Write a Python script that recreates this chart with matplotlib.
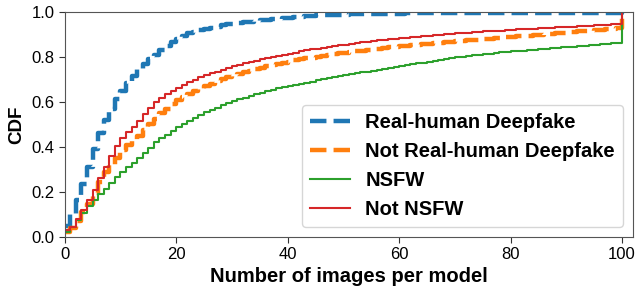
import matplotlib
matplotlib.use("Agg")
import matplotlib.pyplot as plt
import numpy as np

plt.rcParams['font.family'] = ['Liberation Sans', 'DejaVu Sans']

# Number of images per model (x) and CDF values for each group
n_images = list(range(0, 101))

real_human_deepfake = [
    0.05, 0.10, 0.165, 0.235, 0.31, 0.39, 0.46, 0.52, 0.57, 0.615,
    0.65, 0.685, 0.715, 0.745, 0.77, 0.79, 0.81, 0.83, 0.848, 0.865,
    0.88, 0.893, 0.905, 0.912, 0.918, 0.924, 0.930, 0.935, 0.940, 0.944,
    0.948, 0.951, 0.954, 0.957, 0.960, 0.963, 0.966, 0.968, 0.970, 0.972,
    0.975, 0.977, 0.979, 0.981, 0.983, 0.984, 0.985, 0.986, 0.987, 0.988,
    0.988, 0.989, 0.989, 0.990, 0.990, 0.991, 0.991, 0.991, 0.992, 0.992,
    0.992, 0.993, 0.993, 0.993, 0.993, 0.994, 0.994, 0.994, 0.994, 0.994,
    0.995, 0.995, 0.995, 0.995, 0.995, 0.995, 0.995, 0.995, 0.995, 0.995,
    0.995, 0.995, 0.995, 0.996, 0.996, 0.996, 0.996, 0.996, 0.996, 0.996,
    0.996, 0.996, 0.996, 0.996, 0.996, 0.996, 0.996, 0.996, 0.996, 0.996,
    1.0]

not_real_human_deepfake = [
    0.02, 0.04, 0.07, 0.11, 0.147, 0.195, 0.245, 0.29, 0.32, 0.35,
    0.385, 0.41, 0.43, 0.45, 0.475, 0.50, 0.525, 0.55, 0.57, 0.59,
    0.607, 0.62, 0.634, 0.647, 0.659, 0.67, 0.681, 0.691, 0.70, 0.709,
    0.717, 0.725, 0.732, 0.739, 0.746, 0.752, 0.758, 0.764, 0.769, 0.774,
    0.779, 0.784, 0.789, 0.793, 0.797, 0.801, 0.805, 0.809, 0.812, 0.816,
    0.819, 0.822, 0.825, 0.828, 0.831, 0.834, 0.837, 0.839, 0.842, 0.844,
    0.847, 0.849, 0.852, 0.854, 0.856, 0.859, 0.861, 0.863, 0.865, 0.867,
    0.869, 0.871, 0.873, 0.875, 0.877, 0.879, 0.881, 0.883, 0.885, 0.887,
    0.889, 0.891, 0.893, 0.895, 0.897, 0.899, 0.901, 0.903, 0.905, 0.907,
    0.909, 0.911, 0.913, 0.915, 0.917, 0.919, 0.921, 0.923, 0.926, 0.930,
    1.0]

nsfw = [
    0.02, 0.046, 0.076, 0.107, 0.138, 0.165, 0.19, 0.213, 0.24, 0.265,
    0.29, 0.31, 0.33, 0.35, 0.375, 0.395, 0.42, 0.438, 0.455, 0.472,
    0.488, 0.502, 0.516, 0.529, 0.542, 0.554, 0.565, 0.575, 0.585, 0.594,
    0.603, 0.611, 0.619, 0.627, 0.634, 0.641, 0.648, 0.654, 0.660, 0.665,
    0.670, 0.675, 0.680, 0.685, 0.690, 0.697, 0.702, 0.707, 0.711, 0.715,
    0.719, 0.723, 0.727, 0.731, 0.735, 0.739, 0.743, 0.747, 0.751, 0.755,
    0.759, 0.763, 0.767, 0.771, 0.775, 0.779, 0.783, 0.787, 0.791, 0.795,
    0.798, 0.801, 0.804, 0.807, 0.810, 0.813, 0.815, 0.818, 0.820, 0.822,
    0.824, 0.826, 0.828, 0.830, 0.832, 0.834, 0.836, 0.838, 0.840, 0.842,
    0.844, 0.846, 0.848, 0.850, 0.852, 0.854, 0.856, 0.858, 0.860, 0.862,
    1.0]

not_nsfw = [
    0.03, 0.046, 0.08, 0.12, 0.165, 0.21, 0.26, 0.31, 0.36, 0.405,
    0.44, 0.465, 0.49, 0.515, 0.545, 0.575, 0.598, 0.618, 0.635, 0.65,
    0.663, 0.676, 0.688, 0.699, 0.709, 0.718, 0.727, 0.735, 0.743, 0.751,
    0.758, 0.765, 0.771, 0.777, 0.783, 0.789, 0.794, 0.799, 0.804, 0.809,
    0.814, 0.819, 0.824, 0.829, 0.833, 0.837, 0.841, 0.845, 0.848, 0.852,
    0.855, 0.858, 0.861, 0.864, 0.867, 0.870, 0.873, 0.875, 0.878, 0.880,
    0.883, 0.885, 0.887, 0.889, 0.892, 0.894, 0.896, 0.898, 0.900, 0.902,
    0.904, 0.906, 0.908, 0.909, 0.911, 0.913, 0.914, 0.916, 0.917, 0.919,
    0.920, 0.922, 0.923, 0.924, 0.926, 0.927, 0.929, 0.930, 0.931, 0.933,
    0.934, 0.935, 0.936, 0.937, 0.939, 0.940, 0.941, 0.942, 0.944, 0.946,
    1.0]

labels = ["Real-human Deepfake", "Not Real-human Deepfake", "NSFW", "Not NSFW"]
x_ticks = [0, 20, 40, 60, 80, 100]
y_ticks = [0.0, 0.2, 0.4, 0.6, 0.8, 1.0]

fig = plt.figure(figsize=(6.35, 2.9), dpi=100)
ax = fig.add_axes([0.102, 0.183, 0.895, 0.776])

ax.step(n_images, real_human_deepfake, where='post', color='#1f77b4',
        linestyle='--', linewidth=3.2, label=labels[0])
ax.step(n_images, not_real_human_deepfake, where='post', color='#ff7f0e',
        linestyle='--', linewidth=3.2, label=labels[1])
ax.step(n_images, nsfw, where='post', color='#2ca02c',
        linestyle='-', linewidth=1.5, label=labels[2])
ax.step(n_images, not_nsfw, where='post', color='#d62728',
        linestyle='-', linewidth=1.5, label=labels[3])

ax.set_xlim(0, 102)
ax.set_ylim(0, 1.0)
ax.set_xticks(x_ticks)
ax.set_yticks(y_ticks)
ax.set_yticklabels([f"{v:.1f}" for v in y_ticks])
ax.tick_params(labelsize=12, length=4, color='#333333')
ax.set_xlabel("Number of images per model", fontsize=14.5, fontweight='bold',
              labelpad=3)
ax.set_ylabel("CDF", fontsize=13.5, fontweight='bold', labelpad=4)
for s in ax.spines.values():
    s.set_color('#555555')

ax.legend(loc='lower right', prop={'size': 14.5, 'weight': 'bold'},
          handlelength=2.0, handletextpad=0.75, labelspacing=0.5,
          framealpha=0.8)

fig.savefig("out.png", dpi=100)
